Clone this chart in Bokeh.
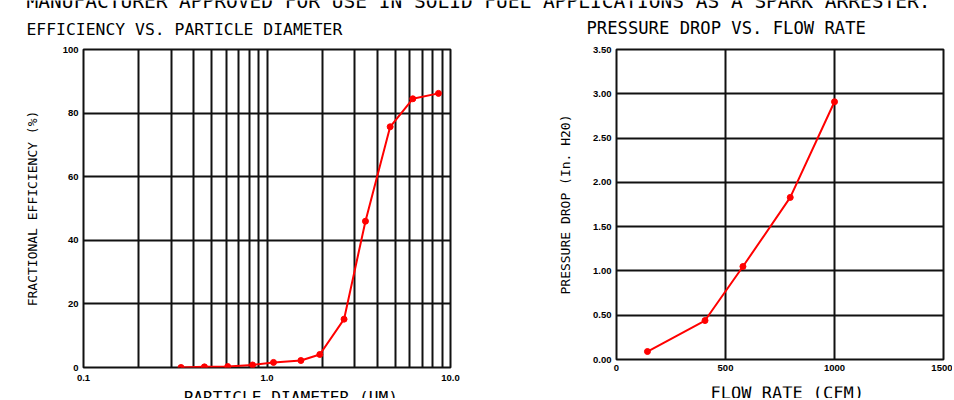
from bokeh.plotting import figure
from bokeh.models import Range1d, FixedTicker, Label, PrintfTickFormatter
from bokeh.layouts import column, row
from bokeh.embed import file_html
from bokeh.resources import INLINE

# ---- data ----
header_text = "MANUFACTURER APPROVED FOR USE IN SOLID FUEL APPLICATIONS AS A SPARK ARRESTER."

eff_title = "EFFICIENCY VS. PARTICLE DIAMETER"
eff_xlabel = "PARTICLE DIAMETER,(UM)"
eff_ylabel = "FRACTIONAL EFFICIENCY (%)"
particle_diameter = [0.34, 0.456, 0.611, 0.834, 1.085, 1.53, 1.94, 2.63, 3.44, 4.69, 6.23, 8.6]
fractional_efficiency = [0.0, 0.2, 0.3, 0.8, 1.6, 2.2, 4.1, 15.2, 46.0, 75.7, 84.5, 86.2]
eff_x_ticks = [0.1, 1.0, 10.0]
eff_x_tick_labels = ["0.1", "1.0", "10.0"]
eff_x_grid = [0.1, 0.2, 0.3, 0.4, 0.5, 0.6, 0.7, 0.8, 0.9,
              1.0, 2.0, 3.0, 4.0, 5.0, 6.0, 7.0, 8.0, 9.0, 10.0]
eff_y_ticks = [0, 20, 40, 60, 80, 100]

pd_title = "PRESSURE DROP VS. FLOW RATE"
pd_xlabel = "FLOW RATE (CFM)"
pd_ylabel = "PRESSURE DROP (In. H20)"
flow_rate = [142, 406, 580, 797, 1000]
pressure_drop = [0.09, 0.44, 1.05, 1.83, 2.91]
pd_x_ticks = [0, 500, 1000, 1500]
pd_y_ticks = [0.0, 0.5, 1.0, 1.5, 2.0, 2.5, 3.0, 3.5]

MONO = "DejaVu Sans Mono"
TICKFONT = "Liberation Sans"
GRID = "#111111"
RED = "#ff0000"


def style(p):
    p.background_fill_color = "white"
    p.border_fill_color = "white"
    p.outline_line_color = GRID
    p.outline_line_width = 2
    for g in (p.xgrid, p.ygrid):
        g.grid_line_color = GRID
        g.grid_line_width = 2
    for ax in (p.xaxis, p.yaxis):
        ax.axis_line_color = None
        ax.major_tick_line_color = None
        ax.minor_tick_line_color = None
        ax.major_tick_in = 0
        ax.major_tick_out = 0
        ax.minor_tick_in = 0
        ax.minor_tick_out = 0
        ax.major_label_text_font = TICKFONT
        ax.major_label_text_font_style = "bold"
        ax.major_label_text_font_size = "9.5px"
        ax.major_label_text_color = "black"
        ax.axis_label_text_font = MONO
        ax.axis_label_text_font_style = "normal"
        ax.axis_label_text_color = "black"


def strip(width, height):
    s = figure(width=width, height=height, x_range=Range1d(0, 1), y_range=Range1d(0, 1),
               x_axis_location=None, y_axis_location=None, title=None,
               toolbar_location=None, output_backend="svg", min_border=0)
    s.outline_line_color = None
    s.xgrid.visible = False
    s.ygrid.visible = False
    s.border_fill_color = "white"
    s.background_fill_color = "white"
    return s


def add_text(s, text, x, y, size):
    s.add_layout(Label(x=x, y=y, x_units="screen", y_units="screen", text=text,
                       text_font=MONO, text_font_size=f"{size}px", text_color="black",
                       text_align="left", text_baseline="alphabetic"))


# strip heights (page pixels)
HDR_H = 40
FTR_H = 12

# ---- header strip: header line and both plot titles ----
hdr = strip(952, HDR_H)
add_text(hdr, header_text, 26, HDR_H - 8 + 7.0, 19.5)
add_text(hdr, eff_title, 26, HDR_H - 34.5 + 5.9, 16.4)
add_text(hdr, pd_title, 586, HDR_H - 34.0 + 6.2, 17.2)

# ---- efficiency plot ----
p1 = figure(width=480, height=346, x_axis_type="log",
            x_range=Range1d(0.1, 10), y_range=Range1d(0, 100),
            toolbar_location=None, output_backend="svg", title=None,
            min_border_left=83, min_border_right=30, min_border_top=9, min_border_bottom=18)
style(p1)
p1.xaxis.ticker = FixedTicker(ticks=eff_x_ticks)
p1.xaxis.major_label_overrides = {t: s for t, s in zip(eff_x_ticks, eff_x_tick_labels)}
p1.xaxis.major_label_text_align = "left"
p1.xaxis.major_label_standoff = 7
p1.yaxis.ticker = FixedTicker(ticks=eff_y_ticks)
p1.yaxis.major_label_standoff = 5
p1.yaxis.axis_label = eff_ylabel
p1.yaxis.axis_label_text_font_size = "13px"
p1.yaxis.axis_label_standoff = 20
p1.xgrid.ticker = FixedTicker(ticks=eff_x_grid)
p1.ygrid.ticker = FixedTicker(ticks=eff_y_ticks)
p1.line(particle_diameter, fractional_efficiency, line_color=RED, line_width=2)
p1.scatter(particle_diameter, fractional_efficiency, size=6, color=RED)

# ---- pressure drop plot ----
p2 = figure(width=472, height=338,
            x_range=Range1d(0, 1500), y_range=Range1d(0, 3.5),
            toolbar_location=None, output_backend="svg", title=None,
            min_border_left=136, min_border_right=9, min_border_top=9, min_border_bottom=19)
style(p2)
p2.xaxis.ticker = FixedTicker(ticks=pd_x_ticks)
p2.xaxis.major_label_standoff = 5
p2.yaxis.ticker = FixedTicker(ticks=pd_y_ticks)
p2.yaxis.formatter = PrintfTickFormatter(format="%.2f")
p2.yaxis.major_label_standoff = 5
p2.yaxis.axis_label = pd_ylabel
p2.yaxis.axis_label_text_font_size = "13px"
p2.yaxis.axis_label_standoff = 17
p2.xgrid.ticker = FixedTicker(ticks=pd_x_ticks)
p2.ygrid.ticker = FixedTicker(ticks=pd_y_ticks)
p2.line(flow_rate, pressure_drop, line_color=RED, line_width=2)
p2.scatter(flow_rate, pressure_drop, size=6, color=RED)

# ---- footer strip (page y 386..398): both x-axis titles ----
ftr = strip(952, FTR_H)
add_text(ftr, eff_xlabel, 183, FTR_H - 402.8 + 386 + 5.8, 16.2)
add_text(ftr, pd_xlabel, 710, FTR_H - 399.4 + 386 + 6.6, 17)

layout = column(hdr, row(p1, p2), ftr)
open("out.html", "w").write(file_html(layout, INLINE))
